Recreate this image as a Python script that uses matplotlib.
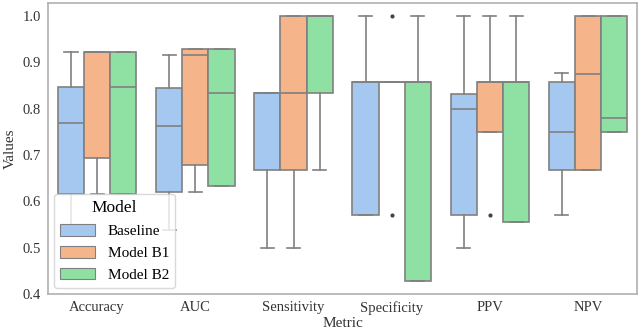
import matplotlib
matplotlib.use("Agg")
import matplotlib.pyplot as plt
from matplotlib.patches import Patch

# metric names and model names
metrics = ["Accuracy", "AUC", "Sensitivity", "Specificity", "PPV", "NPV"]
models = ["Baseline", "Model B1", "Model B2"]
colors = ["#a4c8ef", "#f6b48b", "#8fe0a3"]

# box stats: (whislo, q1, med, q3, whishi)
baseline = [
    (0.538, 0.615, 0.769, 0.847, 0.922),
    (0.538, 0.620, 0.762, 0.845, 0.916),
    (0.500, 0.667, 0.834, 0.834, 0.834),
    (0.571, 0.571, 0.857, 0.857, 1.000),
    (0.500, 0.571, 0.800, 0.832, 1.000),
    (0.571, 0.667, 0.750, 0.857, 0.877),
]
model_b1 = [
    (0.615, 0.693, 0.922, 0.922, 0.922),
    (0.620, 0.678, 0.916, 0.929, 0.929),
    (0.500, 0.667, 0.834, 1.000, 1.000),
    (0.857, 0.857, 0.857, 0.857, 0.857),
    (0.750, 0.750, 0.857, 0.857, 1.000),
    (0.667, 0.667, 0.875, 1.000, 1.000),
]
model_b2 = [
    (0.615, 0.615, 0.847, 0.922, 0.922),
    (0.633, 0.633, 0.834, 0.929, 0.929),
    (0.667, 0.834, 1.000, 1.000, 1.000),
    (0.429, 0.429, 0.857, 0.857, 1.000),
    (0.556, 0.556, 0.857, 0.857, 1.000),
    (0.750, 0.750, 0.780, 1.000, 1.000),
]
# outliers per metric
fliers_b1 = [[], [], [], [1.0, 0.571], [0.571], []]

plt.rcParams['font.family'] = ['Liberation Serif', 'DejaVu Serif']

fig = plt.figure(figsize=(6.41, 3.32), dpi=100)
ax = fig.add_axes([0.075, 0.1145, 0.919, 0.8765])

edge = "#808080"
w = 0.8 / 3
for j, data in enumerate([baseline, model_b1, model_b2]):
    stats = []
    for i, (lo, q1, med, q3, hi) in enumerate(data):
        fl = fliers_b1[i] if j == 1 else []
        stats.append(dict(whislo=lo, q1=q1, med=med, q3=q3, whishi=hi, fliers=fl))
    pos = [i - 0.4 + w / 2 + j * w for i in range(len(metrics))]
    ax.bxp(stats, positions=pos, widths=w, patch_artist=True, manage_ticks=False,
           boxprops=dict(facecolor=colors[j], edgecolor=edge, linewidth=1.2),
           medianprops=dict(color=edge, linewidth=1.2),
           whiskerprops=dict(color=edge, linewidth=1.2),
           capprops=dict(color=edge, linewidth=1.2),
           flierprops=dict(marker='o', markersize=2, markerfacecolor='#444444',
                           markeredgecolor='#444444'),
           capwidths=w / 2)

ax.set_xlim(-0.5, 5.5)
ax.set_ylim(0.4, 1.028)
ax.set_xticks(range(len(metrics)))
ax.set_xticklabels(metrics)
ax.set_yticks([0.4, 0.5, 0.6, 0.7, 0.8, 0.9, 1.0])
ax.tick_params(length=0, labelsize=10.5, colors='#333333', pad=5)
for s in ax.spines.values():
    s.set_color('#b0b0b0')
    s.set_linewidth(1.2)
ax.set_xlabel('Metric', fontsize=11, color='#333333', labelpad=2)
ax.set_ylabel('Values', fontsize=11, color='#333333', labelpad=4)

handles = [Patch(facecolor=c, edgecolor=edge, linewidth=0.8) for c in colors]
leg = ax.legend(handles, models, title='Model', loc='lower left', fontsize=11,
                title_fontsize=12.5, framealpha=0.8, edgecolor='#d0d0d0',
                handlelength=2.3, handleheight=0.8, borderaxespad=0.4)

fig.savefig('out.png', dpi=100)
